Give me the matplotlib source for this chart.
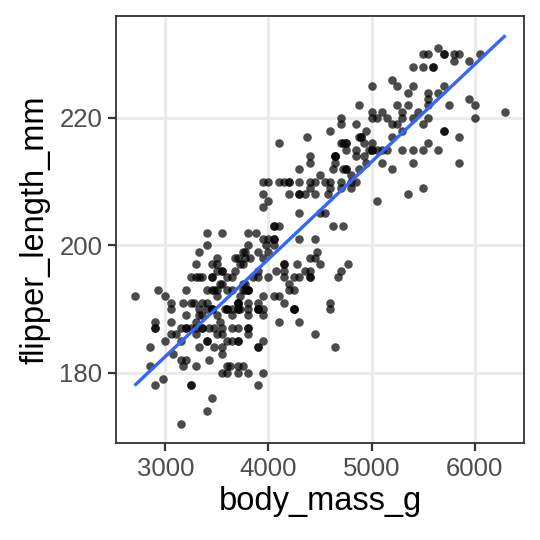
import numpy as np
import matplotlib
matplotlib.use("Agg")
import matplotlib.pyplot as plt

# Palmer penguins: body mass (g) and flipper length (mm), per species
adelie_flipper = [
    181, 186, 195, 193, 190, 181, 195, 193, 190, 186, 180, 182, 191, 198, 185, 195, 197, 184, 194,
    174, 180, 189, 185, 180, 187, 183, 187, 172, 180,
    178, 178, 188, 184, 195, 196, 190, 180, 181, 184,
    182, 195, 186, 196, 185, 190, 182, 179, 190, 191,
    186, 188, 190, 200, 187, 191, 186, 193, 181, 194,
    185, 195, 185, 192, 184, 192, 195, 188, 190, 198,
    190, 190, 196, 197, 190, 195, 191, 184, 187, 195,
    189, 196, 187, 193, 191, 194, 190, 189, 189, 190,
    202, 205, 185, 186, 187, 208, 190, 196, 178, 192,
    192, 203, 183, 190, 193, 184, 199, 190, 181, 197,
    198, 191, 193, 197, 191, 196, 188, 199, 189, 189,
    187, 198, 176, 202, 186, 199, 191, 195, 191, 210,
    190, 197, 193, 199, 187, 190, 191, 200, 185, 193,
    193, 187, 188, 190, 192, 185, 190, 184, 195, 193, 187, 201,
]
adelie_mass = [
    3750, 3800, 3250, 3450, 3650, 3625, 4675, 3475, 4250, 3300, 3700, 3200, 3800, 4400, 3700, 3450, 4500, 3325, 4200,
    3400, 3600, 3800, 3950, 3800, 3800, 3550, 3200, 3150, 3950,
    3250, 3900, 3300, 3900, 3325, 4150, 3950, 3550, 3300, 4650,
    3150, 3900, 3100, 4400, 3000, 4600, 3425, 2975, 3450, 4150,
    3500, 4300, 3450, 4050, 2900, 3700, 3550, 3800, 2850, 3750,
    3150, 4400, 3600, 4050, 2850, 3950, 3350, 4100, 3050, 4450,
    3600, 3900, 3550, 4150, 3700, 4250, 3700, 3900, 3550, 4000,
    3200, 4700, 3800, 4200, 3350, 3550, 3800, 3500, 3950, 3600,
    3550, 4300, 3400, 4450, 3300, 4300, 3700, 4350, 2900, 4100,
    3725, 4725, 3075, 4250, 2925, 3550, 3750, 3900, 3175, 4775,
    3825, 4600, 3200, 4275, 3900, 4075, 2900, 3775, 3350, 3325,
    3150, 3500, 3450, 3875, 3050, 4000, 3275, 4300, 3050, 4000,
    3325, 3500, 3500, 4475, 3425, 3900, 3175, 3975, 3400, 4250,
    3400, 3475, 3050, 3725, 3000, 3650, 4250, 3475, 3450, 3750, 3700, 4000,
]
gentoo_flipper = [
    211, 230, 210, 218, 215, 210, 211, 219, 209, 215,
    214, 216, 214, 213, 210, 217, 210, 221, 209, 222,
    218, 215, 213, 215, 215, 215, 216, 215, 210, 220,
    222, 209, 207, 230, 220, 220, 213, 219, 208, 208,
    208, 225, 210, 216, 222, 217, 210, 225, 213, 215,
    210, 220, 210, 225, 217, 220, 208, 220, 208, 224,
    208, 221, 214, 231, 219, 230, 214, 229, 220, 223,
    216, 221, 221, 217, 216, 230, 209, 220, 215, 223,
    212, 221, 212, 224, 212, 228, 218, 218, 212, 230,
    218, 228, 212, 224, 214, 226, 216, 222, 203, 225,
    219, 228, 215, 228, 216, 215, 210, 219, 208, 209,
    216, 229, 213, 230, 217, 230, 217, 222, 214, 215,
    222, 212, 213,
]
gentoo_mass = [
    4500, 5700, 4450, 5700, 5400, 4550, 4800, 5200, 4400, 5150,
    4650, 5550, 4650, 5850, 4200, 5850, 4150, 6300, 4800, 5350,
    5700, 5000, 4400, 5050, 5000, 5100, 4100, 5650, 4600, 5550,
    5250, 4700, 5050, 6050, 5150, 5400, 4950, 5250, 4350, 5350,
    3950, 5700, 4300, 4750, 5550, 4900, 4200, 5400, 5100, 5300,
    4850, 5300, 4400, 5000, 4900, 5050, 4300, 5000, 4450, 5550,
    4200, 5300, 4400, 5650, 4700, 5700, 4650, 5800, 4700, 5550,
    4750, 5000, 5100, 5200, 4700, 5800, 4600, 6000, 4750, 5950,
    4625, 5450, 4725, 5350, 4750, 5600, 4600, 5300, 4875, 5550,
    4950, 5400, 4750, 5650, 4850, 5200, 4925, 4875, 4625, 5250,
    4850, 5600, 4975, 5500, 4725, 5500, 4700, 5500, 4575, 5500,
    5000, 5950, 4650, 5500, 4375, 5850, 4875, 6000, 4925, 4850,
    5750, 5200, 5400,
]
chinstrap_flipper = [
    192, 196, 193, 188, 197, 198, 178, 197, 195, 198,
    193, 194, 185, 201, 190, 201, 197, 181, 190, 195,
    181, 191, 187, 193, 195, 197, 200, 200, 191, 205,
    187, 201, 187, 203, 195, 199, 195, 210, 192, 205,
    210, 187, 196, 196, 196, 201, 190, 212, 187, 198,
    199, 201, 193, 203, 187, 197, 191, 203, 202, 194,
    206, 189, 195, 207, 202, 193, 210, 198,
]
chinstrap_mass = [
    3500, 3900, 3650, 3525, 3725, 3950, 3250, 3750, 4150, 3700,
    3800, 3775, 3700, 4050, 3575, 4050, 3300, 3700, 3450, 4400,
    3600, 3400, 2900, 3800, 3300, 4150, 3400, 3800, 3700, 4550,
    3200, 4300, 3350, 4100, 3600, 3900, 3850, 4800, 2700, 4500,
    3950, 3650, 3550, 3500, 3675, 4450, 3400, 4300, 3250, 3675,
    3325, 3950, 3600, 4050, 3350, 3450, 3250, 4050, 3800, 3525,
    3950, 3650, 3650, 4000, 3400, 3775, 4100, 3775,
]

x_ticks = [3000, 4000, 5000, 6000]
y_ticks = [180, 200, 220]
x_title = "body_mass_g"
y_title = "flipper_length_mm"

body_mass_g = np.array(adelie_mass + gentoo_mass + chinstrap_mass, dtype=float)
flipper_length_mm = np.array(adelie_flipper + gentoo_flipper + chinstrap_flipper, dtype=float)

plt.rcParams['font.family'] = ['Liberation Sans', 'DejaVu Sans']

fig = plt.figure(figsize=(5.4, 5.4), dpi=100)
ax = fig.add_axes([116 / 540, 1 - 443 / 540, (524 - 116) / 540, (443 - 16) / 540])

ax.scatter(body_mass_g, flipper_length_mm, s=38, color="black", alpha=0.7,
           linewidths=0, zorder=3)

# linear fit (geom_smooth method = "lm")
slope, intercept = np.polyfit(body_mass_g, flipper_length_mm, 1)
xs = np.array([body_mass_g.min(), body_mass_g.max()])
ys = intercept + slope * xs
ax.plot(xs, ys, color="#3366FF", lw=2.4, zorder=4, solid_capstyle="butt")

# limits with 5% expansion, like ggplot
xmin, xmax = body_mass_g.min(), body_mass_g.max()
ymin = min(flipper_length_mm.min(), ys.min())
ymax = max(flipper_length_mm.max(), ys.max())
dx = (xmax - xmin) * 0.05
dy = (ymax - ymin) * 0.05
ax.set_xlim(xmin - dx, xmax + dx)
ax.set_ylim(ymin - dy, ymax + dy)

ax.set_xticks(x_ticks)
ax.set_yticks(y_ticks)
ax.grid(True, color="#EBEBEB", lw=2.2, zorder=0)
ax.set_axisbelow(True)

for sp in ax.spines.values():
    sp.set_color("#333333")
    sp.set_linewidth(1.3)
    sp.set_zorder(5)

ax.tick_params(axis="both", length=5.8, width=1.6, color="#333333",
               labelsize=18.5, labelcolor="#4D4D4D", pad=4)

ax.set_xlabel(x_title, fontsize=23.5, color="black", labelpad=4)
ax.set_ylabel(y_title, fontsize=23.5, color="black", labelpad=6)

fig.savefig("out.png", dpi=100, facecolor="white")
